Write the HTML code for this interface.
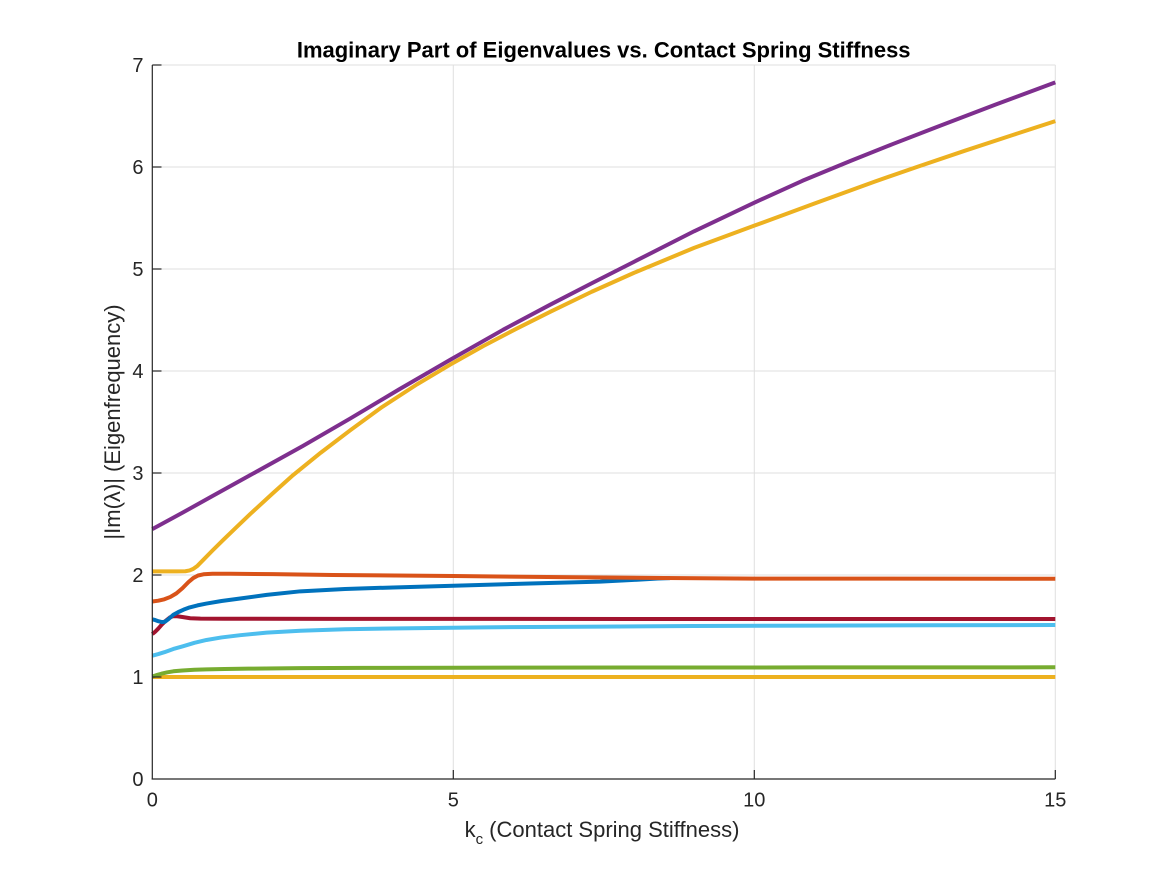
<!DOCTYPE html>
<html>
<head>
<meta charset="utf-8">
<style>
  html,body{margin:0;padding:0;background:#fff;}
  svg{display:block;}
  text{font-family:"Liberation Sans", Arial, sans-serif;}
</style>
</head>
<body>
<svg width="1167" height="875" viewBox="0 0 1167 875" xmlns="http://www.w3.org/2000/svg">
  <rect x="0" y="0" width="1167" height="875" fill="#ffffff"/>
  <!-- grid -->
  <g stroke="#dfdfdf" stroke-width="1" fill="none">
    <line x1="152.3" y1="677" x2="1055.3" y2="677"/>
    <line x1="152.3" y1="575" x2="1055.3" y2="575"/>
    <line x1="152.3" y1="473" x2="1055.3" y2="473"/>
    <line x1="152.3" y1="371" x2="1055.3" y2="371"/>
    <line x1="152.3" y1="269" x2="1055.3" y2="269"/>
    <line x1="152.3" y1="167" x2="1055.3" y2="167"/>
    <line x1="152.3" y1="65" x2="1055.3" y2="65"/>
    <line x1="453.3" y1="65" x2="453.3" y2="779"/>
    <line x1="754.3" y1="65" x2="754.3" y2="779"/>
    <line x1="1055.3" y1="65" x2="1055.3" y2="779"/>
  </g>

  <!-- data -->
  <g transform="translate(152.3 779) scale(60.2 -102)" fill="none" stroke-width="4" stroke-linejoin="round" stroke-linecap="butt">
    <!-- yellow low -->
    <polyline vector-effect="non-scaling-stroke" stroke="#EDB120" points="0,1.0 15,1.0"/>
    <!-- green -->
    <polyline vector-effect="non-scaling-stroke" stroke="#77AC30" points="0,1.005 0.08,1.02 0.15,1.032 0.25,1.046 0.35,1.056 0.5,1.064 0.7,1.071 0.9,1.075 1.2,1.079 1.6,1.082 2.46,1.087 3.5,1.089 5,1.091 8,1.093 11,1.094 15,1.095"/>
    <!-- light blue -->
    <polyline vector-effect="non-scaling-stroke" stroke="#4DBEEE" points="0,1.209 0.1,1.225 0.2,1.243 0.35,1.275 0.5,1.3 0.7,1.335 0.9,1.363 1.15,1.388 1.46,1.41 1.9,1.435 2.46,1.454 3.2,1.468 4.12,1.477 5.5,1.487 7.44,1.494 9,1.5 11,1.504 13,1.507 15,1.51"/>
    <!-- dark red -->
    <polyline vector-effect="non-scaling-stroke" stroke="#A2142F" points="0,1.42 0.05,1.445 0.1,1.475 0.16,1.515 0.22,1.55 0.29,1.583 0.34,1.595 0.4,1.597 0.5,1.588 0.63,1.576 0.8,1.572 1.2,1.571 3,1.57 8,1.569 15,1.569"/>
    <!-- blue -->
    <polyline vector-effect="non-scaling-stroke" stroke="#0072BD" points="0,1.566 0.05,1.558 0.1,1.547 0.16,1.538 0.21,1.542 0.27,1.568 0.35,1.61 0.43,1.636 0.52,1.66 0.62,1.682 0.75,1.702 0.9,1.72 1.15,1.745 1.46,1.77 1.9,1.805 2.46,1.84 3.2,1.863 4,1.878 5,1.895 6.2,1.915 7.44,1.935 8.0,1.952 8.4,1.966 8.6,1.969"/>
    <!-- orange -->
    <polyline vector-effect="non-scaling-stroke" stroke="#D95319" points="0,1.74 0.1,1.748 0.2,1.762 0.3,1.785 0.4,1.82 0.5,1.87 0.6,1.93 0.68,1.97 0.76,1.995 0.85,2.007 1.0,2.012 1.3,2.012 2,2.008 3,2.0 5,1.99 7,1.978 8.5,1.97 10,1.965 12,1.964 15,1.963"/>
    <!-- yellow upper -->
    <polyline vector-effect="non-scaling-stroke" stroke="#EDB120" points="0,2.035 0.4,2.035 0.55,2.037 0.62,2.045 0.68,2.06 0.75,2.09 0.85,2.15 1.0,2.24 1.18,2.345 1.4,2.47 1.63,2.6 2.0,2.8 2.34,2.98 2.8,3.2 3.29,3.42 3.8,3.64 4.4,3.87 5,4.08 5.5,4.245 6.05,4.415 6.61,4.58 7.3,4.777 8,4.962 9,5.207 10,5.425 11,5.642 12,5.857 12.7,6.0 13.5,6.16 14.3,6.315 15,6.45"/>
    <!-- purple -->
    <polyline vector-effect="non-scaling-stroke" stroke="#7E2F8E" points="0,2.45 0.5,2.61 1,2.775 1.63,2.98 2.5,3.265 3.29,3.535 4.1,3.82 4.95,4.11 5.83,4.405 6.61,4.65 7.3,4.86 8,5.07 9,5.37 10,5.65 10.8,5.865 11.6,6.06 12.3,6.225 13,6.385 14,6.61 15,6.83"/>
  </g>

  <!-- axes -->
  <g stroke="#262626" stroke-width="1.2" fill="none">
    <line x1="152.3" y1="65" x2="152.3" y2="779.5"/>
    <line x1="151.7" y1="779" x2="1055.3" y2="779"/>
    <!-- y ticks -->
    <line x1="152.3" y1="677" x2="161.5" y2="677"/>
    <line x1="152.3" y1="575" x2="161.5" y2="575"/>
    <line x1="152.3" y1="473" x2="161.5" y2="473"/>
    <line x1="152.3" y1="371" x2="161.5" y2="371"/>
    <line x1="152.3" y1="269" x2="161.5" y2="269"/>
    <line x1="152.3" y1="167" x2="161.5" y2="167"/>
    <line x1="152.3" y1="65" x2="161.5" y2="65"/>
    <!-- x ticks -->
    <line x1="453.3" y1="779" x2="453.3" y2="770"/>
    <line x1="754.3" y1="779" x2="754.3" y2="770"/>
    <line x1="1055.3" y1="779" x2="1055.3" y2="770"/>
  </g>

  <!-- y tick labels -->
  <g fill="#262626" font-size="20" text-anchor="end">
    <text x="143.5" y="786.2">0</text>
    <text x="143.5" y="684.2">1</text>
    <text x="143.5" y="582.2">2</text>
    <text x="143.5" y="480.2">3</text>
    <text x="143.5" y="378.2">4</text>
    <text x="143.5" y="276.2">5</text>
    <text x="143.5" y="174.2">6</text>
    <text x="143.5" y="72.2">7</text>
  </g>
  <!-- x tick labels -->
  <g fill="#262626" font-size="20" text-anchor="middle">
    <text x="152.3" y="806.7">0</text>
    <text x="453.3" y="806.7">5</text>
    <text x="754.3" y="806.7">10</text>
    <text x="1055.3" y="806.7">15</text>
  </g>

  <!-- title -->
  <text x="603.7" y="57.6" font-size="22" font-weight="bold" fill="#000" text-anchor="middle">Imaginary Part of Eigenvalues vs. Contact Spring Stiffness</text>

  <!-- x label -->
  <text x="602" y="837" font-size="22" fill="#262626" text-anchor="middle">k<tspan font-size="15" dy="7">c</tspan><tspan dy="-7"> (Contact Spring Stiffness)</tspan></text>

  <!-- y label -->
  <text transform="translate(120 422) rotate(-90)" font-size="22" fill="#262626" text-anchor="middle">|Im(λ)| (Eigenfrequency)</text>
</svg>
</body>
</html>
